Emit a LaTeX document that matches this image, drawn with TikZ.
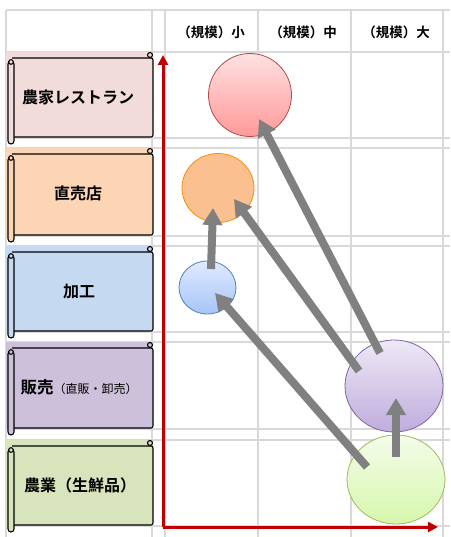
\documentclass[tikz,border=0pt]{standalone}
\usepackage{fontspec}
\newfontfamily\jp{Noto Sans CJK JP}[BoldFont={Noto Sans CJK JP Bold}]
\usetikzlibrary{arrows.meta,shapes.geometric}
\definecolor{gridc}{HTML}{D9D9D9}
\definecolor{axisred}{HTML}{C00000}
\definecolor{arrgray}{HTML}{808080}
\definecolor{rowA}{HTML}{F2DCDB}
\definecolor{rowB}{HTML}{FCD5B4}
\definecolor{rowC}{HTML}{C5D9F1}
\definecolor{rowD}{HTML}{CCC0DA}
\definecolor{rowE}{HTML}{D8E4BC}
\tikzset{
  gridline/.style={draw=gridc,line width=1.8pt},
  scrollline/.style={draw=black,line width=1.1pt},
  axis/.style={draw=axisred,line width=3pt,-{Triangle[width=10pt,length=10pt]}},
  bigarrow/.style={draw=arrgray,line width=8pt,-{Triangle[width=19pt,length=17pt]}},
  bubble/.style={ellipse,inner sep=0pt,line width=0.8pt},
  rowlabel/.style={font=\jp\bfseries\fontsize{16}{18}\selectfont,inner sep=0pt},
  headlabel/.style={font=\jp\bfseries\fontsize{13.5}{16}\selectfont,inner sep=0pt},
}
\newcommand\myscroll[3]{%
  \fill[#3] (6,#1) rectangle (152,#2);
  \draw[scrollline,fill=#3,rounded corners=2pt] (12,#1+6) -- (153,#1+6) -- (153,#2-1) -- (13,#2-1);
  \draw[scrollline,fill=#3] (150,#1+3) circle (2.5);
  \draw[scrollline,fill=#3,rounded corners=3pt] (8,#1+9) rectangle (14,#2+6);
  \draw[scrollline,fill=#3] (11,#1+10) circle (2.3);
}
\begin{document}
\begin{tikzpicture}[x=1pt,y=-1pt]
\useasboundingbox (0,0) rectangle (450,537);
\fill[white] (0,0) rectangle (450,537);
% grid
\foreach \yy in {10,52,138,148,236,246,332,342,429,440,526}
  \draw[gridline] (6,\yy) -- (450,\yy);
\foreach \xx in {6,152,165,258,351,443}
  \draw[gridline] (\xx,10) -- (\xx,537);
% row scrolls
\myscroll{52}{138}{rowA}
\myscroll{148}{236}{rowB}
\myscroll{246}{332}{rowC}
\myscroll{342}{429}{rowD}
\myscroll{440}{526}{rowE}
\node[rowlabel] (lA) at (78,97) {農家レストラン};
\node[rowlabel] (lB) at (78,193) {直売店};
\node[rowlabel] (lC) at (79,292) {加工};
\node[inner sep=0pt] (lD) at (79,387) {\jp\bfseries\fontsize{16.5}{18}\selectfont 販売\mdseries\fontsize{12}{14}\selectfont （直販・卸売）};
\node[rowlabel] (lE) at (80,485) {農業（生鮮品）};
% headers
\node[headlabel] (h1) at (211,32) {（規模）小};
\node[headlabel] (h2) at (303,32) {（規模）中};
\node[headlabel] (h3) at (396,32) {（規模）大};
% axes
\coordinate (origin) at (163,527);
\coordinate (ytip) at (163,55);
\coordinate (xtip) at (438,527);
\draw[axis] (origin) -- (ytip);
\draw[axis] (origin) -- (xtip);
% bubbles
\node[bubble,minimum width=83pt,minimum height=83pt,draw=red!55!black!70,top color=red!12,bottom color=red!40] (pink) at (250,95) {};
\node[bubble,minimum width=72pt,minimum height=69pt,draw=orange!90!yellow,fill={rgb,255:red,250;green,192;blue,143}] (orange) at (218,188) {};
\node[bubble,minimum width=57pt,minimum height=53pt,draw={rgb,255:red,79;green,129;blue,189},top color={rgb,255:red,224;green,234;blue,255},bottom color={rgb,255:red,167;green,196;blue,247}] (blue) at (207.5,287.5) {};
\node[bubble,minimum width=98pt,minimum height=92pt,draw={rgb,255:red,128;green,100;blue,162},top color={rgb,255:red,238;green,233;blue,246},bottom color={rgb,255:red,191;green,172;blue,221}] (purple) at (394,386) {};
\node[bubble,minimum width=98pt,minimum height=89pt,draw={rgb,255:red,155;green,187;blue,89},top color={rgb,255:red,244;green,252;blue,234},bottom color={rgb,255:red,215;green,247;blue,172}] (green) at (396,479.5) {};
% arrow endpoints
\coordinate (gA) at (396,457);
\coordinate (pA) at (396,398);
\coordinate (gB) at (367,467);
\coordinate (bB) at (215,293);
\coordinate (pC) at (359,371);
\coordinate (oC) at (234,199);
\coordinate (pD) at (380,353);
\coordinate (kD) at (259,119);
\coordinate (bE) at (211,269);
\coordinate (oE) at (213,208);
\draw[bigarrow] (gA) -- (pA);
\draw[bigarrow] (gB) -- (bB);
\draw[bigarrow] (pC) -- (oC);
\draw[bigarrow] (pD) -- (kD);
\draw[bigarrow] (bE) -- (oE);
\end{tikzpicture}
\end{document}
